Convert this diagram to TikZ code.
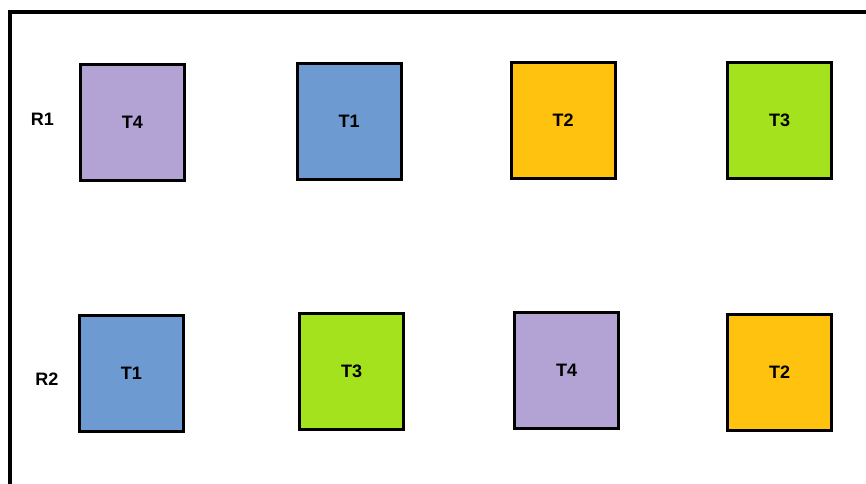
\documentclass[tikz,border=0pt]{standalone}
\usepackage{fontspec}
\setmainfont{Liberation Sans}
\definecolor{lav}{HTML}{B3A2D4}
\definecolor{blu}{HTML}{6E9AD2}
\definecolor{org}{HTML}{FFC20F}
\definecolor{grn}{HTML}{A3E21C}
\begin{document}
\begin{tikzpicture}[x=1pt,y=-1pt,
  task/.style={draw=black,line width=3pt,minimum width=104pt,minimum height=116pt,inner sep=0pt,font=\fontsize{18}{21}\selectfont\bfseries},
  rowlbl/.style={font=\fontsize{18}{21}\selectfont\bfseries,inner sep=0pt}]
\useasboundingbox (0,0) rectangle (866,483);
\fill[white] (0,0) rectangle (866,483);
\draw[line width=4pt] (10,485) -- (10,12) -- (868,12);
\node[rowlbl] (r1) at (42.5,119) {R1};
\node[rowlbl] (r2) at (47,379) {R2};
\node[task,fill=lav] (a1) at (132.5,122) {T4};
\node[task,fill=blu] (a2) at (349,121) {T1};
\node[task,fill=org] (a3) at (563,120) {T2};
\node[task,fill=grn] (a4) at (779.5,120.5) {T3};
\node[task,fill=blu] (b1) at (131.5,373.5) {T1};
\node[task,fill=grn] (b2) at (351.5,371) {T3};
\node[task,fill=lav] (b3) at (566.5,370.5) {T4};
\node[task,fill=org] (b4) at (779.5,372.5) {T2};
\end{tikzpicture}
\end{document}
